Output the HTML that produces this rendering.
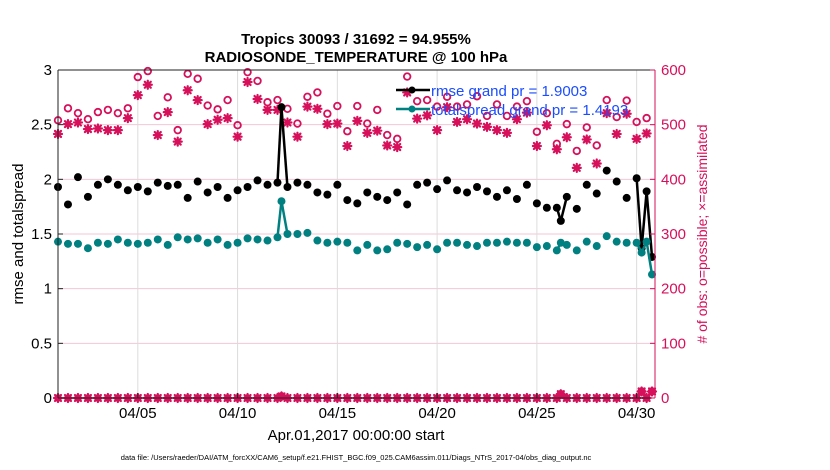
<!DOCTYPE html>
<html><head><meta charset="utf-8"><style>
body{margin:0;background:#fff;}
svg{font-family:"Liberation Sans",Arial,sans-serif;display:block}
</style></head><body>
<svg id="chart" width="830" height="470" viewBox="0 0 830 470" xmlns="http://www.w3.org/2000/svg">
<text x="356" y="44" text-anchor="middle" font-size="15" font-weight="bold">Tropics 30093 / 31692 = 94.955%</text>
<text x="356" y="62" text-anchor="middle" font-size="15" font-weight="bold">RADIOSONDE_TEMPERATURE @ 100 hPa</text>
<g id="grid"></g>
<g id="marks"></g>
<g id="axes"></g>
<text transform="translate(23,234) rotate(-90)" text-anchor="middle" font-size="15">rmse and totalspread</text>
<text transform="translate(707,234) rotate(-90)" text-anchor="middle" font-size="14" fill="#d6105a">#  of obs: o=possible; ×=assimilated</text>
<text x="356" y="440" text-anchor="middle" font-size="15">Apr.01,2017 00:00:00 start</text>
<text x="356" y="460" text-anchor="middle" font-size="7.5">data file: /Users/raeder/DAI/ATM_forcXX/CAM6_setup/f.e21.FHIST_BGC.f09_025.CAM6assim.011/Diags_NTrS_2017-04/obs_diag_output.nc</text>
<g>
<line x1="396" y1="90" x2="430" y2="90" stroke="#000" stroke-width="2.5"/><circle cx="412" cy="90" r="3.5" fill="#000"/>
<line x1="396" y1="109" x2="430" y2="109" stroke="#008080" stroke-width="2.5"/><circle cx="412" cy="109" r="3.5" fill="#008080"/>
<text x="431" y="96" font-size="15" fill="#1a4dff">rmse grand pr = 1.9003</text>
<text x="431" y="115" font-size="15" fill="#1a4dff">totalspread grand pr = 1.4193</text>
</g>
</svg>
<script>
// time in days (1 = 04/01 00:00)
const times = [1,1.5,2,2.5,3,3.5,4,4.5,5,5.5,6,6.5,7,7.5,8,8.5,9,9.5,10,10.5,11,11.5,12,12.2,12.5,13,13.5,14,14.5,15,15.5,16,16.5,17,17.5,18,18.5,19,19.5,20,20.5,21,21.5,22,22.5,23,23.5,24,24.5,25,25.5,26,26.2,26.5,27,27.5,28,28.5,29,29.5,30,30.25,30.5,30.77];
const rmse = [1.93,1.77,2.02,1.84,1.95,2.00,1.95,1.90,1.93,1.89,1.97,1.94,1.95,1.83,1.98,1.88,1.93,1.83,1.90,1.93,1.99,1.95,1.97,2.66,1.93,1.97,1.95,1.88,1.86,1.95,1.81,1.78,1.88,1.84,1.81,1.88,1.77,1.95,1.97,1.91,1.99,1.90,1.88,1.93,1.89,1.84,1.90,1.82,1.95,1.78,1.74,1.74,1.62,1.84,1.73,1.95,1.87,2.08,1.98,1.83,2.01,1.37,1.89,1.29];
const spread = [1.43,1.41,1.41,1.37,1.42,1.41,1.45,1.42,1.41,1.42,1.45,1.40,1.47,1.45,1.46,1.42,1.45,1.40,1.42,1.46,1.45,1.44,1.47,1.80,1.50,1.50,1.51,1.44,1.42,1.43,1.42,1.35,1.40,1.35,1.36,1.42,1.41,1.38,1.40,1.36,1.42,1.42,1.40,1.39,1.42,1.42,1.43,1.42,1.42,1.38,1.39,1.35,1.42,1.40,1.35,1.43,1.39,1.48,1.43,1.42,1.42,1.33,1.43,1.13];
const possible = [508,530,521,510,523,527,521,530,587,598,516,550,490,593,584,535,528,545,499,596,580,541,545,3,529,502,551,559,520,534,488,534,502,527,481,474,588,543,545,533,551,533,537,552,516,537,516,533,543,487,521,465,7,501,452,495,462,545,514,544,505,12,512,12];
const assimilated = [483,501,504,492,493,490,490,512,554,573,481,523,469,563,545,501,509,512,478,578,547,527,527,3,504,478,533,529,501,502,461,507,485,489,462,459,559,511,517,490,532,505,510,502,496,490,485,510,522,461,499,455,7,477,421,473,429,521,483,520,474,12,484,12];
const xTicks = [5,10,15,20,25,30];
const xTickLabels = ['04/05','04/10','04/15','04/20','04/25','04/30'];
const yTicksL = [0,0.5,1,1.5,2,2.5,3];
const yTicksR = [0,100,200,300,400,500,600];

const NS='http://www.w3.org/2000/svg';
const L=58,R=655,T=70,B=398;
const xs=d=>L+(d-1)*(R-L)/29.92;
const yl=v=>B-v*(B-T)/3;
const yr=v=>B-v*(B-T)/600;
function mk(tag,attrs,parent){const e=document.createElementNS(NS,tag);for(const k in attrs)e.setAttribute(k,attrs[k]);parent.appendChild(e);return e;}
const grid=document.getElementById('grid'),marks=document.getElementById('marks'),axes=document.getElementById('axes');
const MAG='#d6105a';
yTicksR.forEach(v=>{if(v>0&&v<600){const g=mk('line',{x1:L,x2:R,y1:yr(v),y2:yr(v),stroke:'#f4c6d6','stroke-width':1},grid);

}});
xTicks.forEach(d=>{const g=mk('line',{x1:xs(d),x2:xs(d),y1:T,y2:B,stroke:'#dcdcdc','stroke-width':1},grid);

});
// axes box
mk('line',{x1:L,x2:L,y1:T,y2:B,stroke:'#222'},axes);
mk('line',{x1:L,x2:R,y1:T,y2:T,stroke:'#222'},axes);
mk('line',{x1:L,x2:R,y1:B,y2:B,stroke:'#222'},axes);
mk('line',{x1:R,x2:R,y1:T,y2:B,stroke:MAG},axes);
yTicksL.forEach(v=>{mk('line',{x1:L,x2:L+5,y1:yl(v),y2:yl(v),stroke:'#222'},axes);
const t=mk('text',{x:L-6,y:yl(v)+5,'text-anchor':'end','font-size':15},axes);t.textContent=v;

});
yTicksR.forEach(v=>{mk('line',{x1:R-5,x2:R,y1:yr(v),y2:yr(v),stroke:MAG},axes);
const t=mk('text',{x:R+6,y:yr(v)+5,'font-size':15,fill:MAG},axes);t.textContent=v;

});
xTicks.forEach((d,i)=>{mk('line',{x1:xs(d),x2:xs(d),y1:B,y2:B-5,stroke:'#222'},axes);
const t=mk('text',{x:xs(d),y:B+20,'text-anchor':'middle','font-size':15},axes);t.textContent=xTickLabels[i];

});

function ast(x,y,name){const g=mk('g',{stroke:MAG,'stroke-width':2.2,'stroke-linecap':'round'},marks);


const r=4;mk('line',{x1:x-r,x2:x+r,y1:y,y2:y},g);mk('line',{x1:x,x2:x,y1:y-r,y2:y+r},g);
mk('line',{x1:x-3,x2:x+3,y1:y-3,y2:y+3},g);mk('line',{x1:x-3,x2:x+3,y1:y+3,y2:y-3},g);}
times.forEach((d,i)=>{
 const c=mk('circle',{cx:xs(d),cy:yr(possible[i]),r:3.3,fill:'none',stroke:MAG,'stroke-width':1.8},marks);
 
 
 ast(xs(d),yr(assimilated[i]),'assimilated-obs-point');
 if(possible[i]>50){const b=mk('circle',{cx:xs(d),cy:yr(0),r:3.8,fill:MAG},marks);
 
 
 ast(xs(d),yr(0),'zero-obs-asterisk');}
 else{const b=mk('circle',{cx:xs(d),cy:yr(possible[i]),r:3.8,fill:MAG},marks);
 
 }
});
function series(vals,color,name){
 for(let i=1;i<times.length;i++){if(times[i]-times[i-1]<0.45){
  const l=mk('line',{x1:xs(times[i-1]),y1:yl(vals[i-1]),x2:xs(times[i]),y2:yl(vals[i]),stroke:color,'stroke-width':2.5},marks);
  
  }}
 times.forEach((d,i)=>{const c=mk('circle',{cx:xs(d),cy:yl(vals[i]),r:4,fill:color},marks);
 
 });
}
series(rmse,'#000','rmse');
series(spread,'#008080','totalspread');
</script>
</body></html>
